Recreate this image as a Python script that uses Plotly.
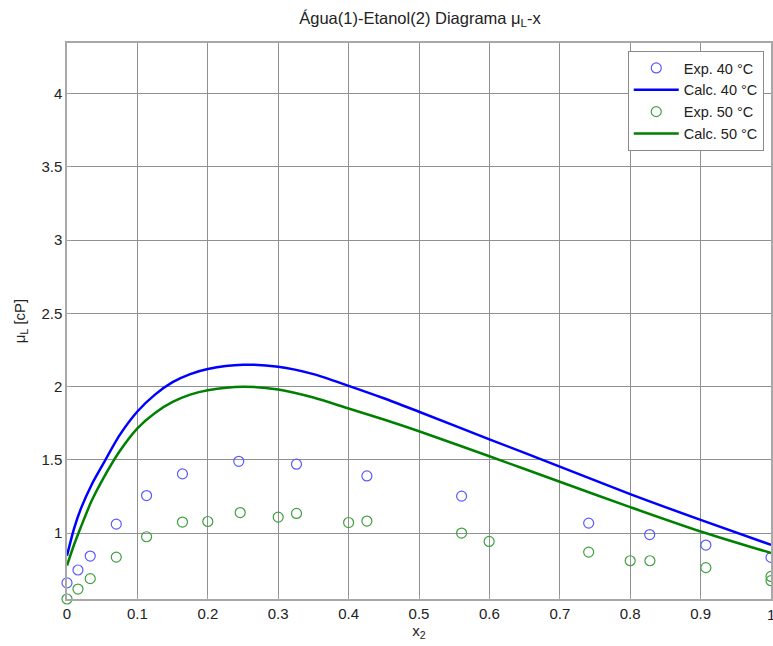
import plotly.graph_objects as go

# Experimental data, 40 °C
x_exp40 = [0.0, 0.0156, 0.033, 0.07, 0.113, 0.164, 0.244, 0.326, 0.426, 0.5605, 0.741, 0.8277, 0.9075, 1.0]
y_exp40 = [0.66, 0.748, 0.843, 1.061, 1.256, 1.404, 1.49, 1.47, 1.39, 1.252, 1.068, 0.99, 0.918, 0.834]

# Experimental data, 50 °C
x_exp50 = [0.0, 0.0156, 0.033, 0.07, 0.113, 0.164, 0.2, 0.246, 0.300, 0.326, 0.400, 0.426,
           0.5605, 0.5996, 0.741, 0.800, 0.828, 0.9075, 1.0, 1.0]
y_exp50 = [0.55, 0.618, 0.689, 0.836, 0.975, 1.075, 1.079, 1.14, 1.109, 1.134, 1.072, 1.082,
           1.0, 0.943, 0.87, 0.811, 0.811, 0.764, 0.704, 0.675]

# Calculated curves
x_calc40 = [0.0, 0.01, 0.02, 0.035, 0.05, 0.075, 0.1, 0.125, 0.15, 0.175, 0.2, 0.25, 0.3, 0.35,
            0.4, 0.45, 0.5, 0.6, 0.7, 0.8, 0.9, 1.0]
y_calc40 = [0.845, 1.03, 1.17, 1.33, 1.46, 1.67, 1.83, 1.945, 2.03, 2.085, 2.12, 2.149, 2.135, 2.085,
            2.005, 1.92, 1.828, 1.64, 1.454, 1.266, 1.09, 0.92]

x_calc50 = [0.0, 0.01, 0.02, 0.035, 0.05, 0.075, 0.1, 0.125, 0.15, 0.175, 0.2, 0.25, 0.3, 0.35,
            0.4, 0.45, 0.5, 0.6, 0.7, 0.8, 0.9, 1.0]
y_calc50 = [0.778, 0.92, 1.045, 1.22, 1.36, 1.56, 1.715, 1.82, 1.895, 1.945, 1.975, 1.999, 1.98, 1.925,
            1.85, 1.775, 1.695, 1.524, 1.35, 1.177, 1.011, 0.864]

x_ticks = [0, 0.1, 0.2, 0.3, 0.4, 0.5, 0.6, 0.7, 0.8, 0.9, 1]
x_tick_labels = ["0", "0.1", "0.2", "0.3", "0.4", "0.5", "0.6", "0.7", "0.8", "0.9", "1"]
y_ticks = [1, 1.5, 2, 2.5, 3, 3.5, 4]
y_tick_labels = ["1", "1.5", "2", "2.5", "3", "3.5", "4"]

FONT = "Liberation Sans, Arial, sans-serif"
TXT = "#222222"

fig = go.Figure()
fig.add_trace(go.Scatter(x=x_exp40, y=y_exp40, mode="markers", name="Exp. 40 °C",
                         marker=dict(symbol="circle-open", size=10, color="#5a5aff",
                                     line=dict(width=1.2)),
                         cliponaxis=False))
fig.add_trace(go.Scatter(x=x_calc40, y=y_calc40, mode="lines", name="Calc. 40 °C",
                         line=dict(color="#0000ff", width=2.5, shape="spline", smoothing=0.8)))
fig.add_trace(go.Scatter(x=x_exp50, y=y_exp50, mode="markers", name="Exp. 50 °C",
                         marker=dict(symbol="circle-open", size=10, color="#40a040",
                                     line=dict(width=1.2)),
                         cliponaxis=False))
fig.add_trace(go.Scatter(x=x_calc50, y=y_calc50, mode="lines", name="Calc. 50 °C",
                         line=dict(color="#008000", width=2.5, shape="spline", smoothing=0.8)))

axis_common = dict(showgrid=True, gridcolor="#909090", gridwidth=1,
                   showline=True, linecolor="#a8a8a8", linewidth=1.5, mirror=True,
                   ticks="inside", ticklen=4, tickcolor="#a0a0a0",
                   zeroline=False, tickfont=dict(family=FONT, size=15, color=TXT))

# last x tick label is drawn as an annotation so it can sit at the page edge
x_tick_labels_axis = x_tick_labels[:-1] + [""]

fig.update_layout(
    width=773, height=646,
    margin=dict(l=67, r=0, t=43, b=47),
    paper_bgcolor="white", plot_bgcolor="white",
    font=dict(family=FONT, color=TXT),
    title=dict(text="Água(1)-Etanol(2) Diagrama μ<sub>L</sub>-x", x=420 / 773,
               xanchor="center", y=1 - 18 / 646, yanchor="middle",
               font=dict(family=FONT, size=16.5, color=TXT)),
    xaxis=dict(range=[0, 1], tickvals=x_ticks, ticktext=x_tick_labels_axis,
               title=dict(text="x<sub>2</sub>", standoff=5, font=dict(family=FONT, size=15)),
               **axis_common),
    yaxis=dict(range=[0.55, 4.345], tickvals=y_ticks, ticktext=y_tick_labels,
               title=dict(text="μ<sub>L</sub> [cP]", standoff=12, font=dict(family=FONT, size=15)),
               **axis_common),
    legend=dict(x=0.9897, xanchor="right", y=0.9856, yanchor="top",
                bgcolor="white", bordercolor="#8a8a8a", borderwidth=1,
                font=dict(family=FONT, size=14.5, color=TXT),
                tracegroupgap=0, itemwidth=45),
    showlegend=True,
)

fig.add_annotation(x=x_ticks[-1], y=0, xref="x", yref="paper", text=x_tick_labels[-1],
                   showarrow=False, xanchor="center", yanchor="top", yshift=-5,
                   font=dict(family=FONT, size=15, color=TXT))

fig.write_html("out.html")
